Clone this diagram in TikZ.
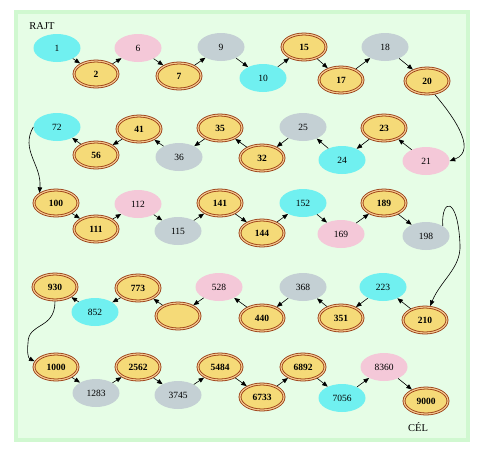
\documentclass[tikz,border=0pt]{standalone}
\usepackage{fontspec}
\setmainfont{Liberation Serif}
\usetikzlibrary{shapes.geometric,arrows.meta}
\definecolor{cyanN}{HTML}{70F0F0}
\definecolor{pinkN}{HTML}{F4C8D8}
\definecolor{grayN}{HTML}{C4D0D4}
\definecolor{goldN}{HTML}{F5DA78}
\definecolor{brownN}{HTML}{98380F}
\definecolor{gapN}{HTML}{F2C890}
\definecolor{frameN}{HTML}{D0F8D0}
\definecolor{bgN}{HTML}{E6FDE6}
\begin{document}
\begin{tikzpicture}[x=1pt,y=-1pt,
 base/.style={ellipse, inner sep=0pt, minimum width=47pt, minimum height=28pt, font=\fontsize{9.5}{10}\selectfont},
 cy/.style={base, fill=cyanN},
 pk/.style={base, fill=pinkN},
 gr/.style={base, fill=grayN},
 gd/.style={base, minimum width=44pt, minimum height=26pt, fill=goldN, draw=brownN, line width=0.8pt, double=gapN, double distance=1.2pt, outer sep=1.4pt, font=\fontsize{9.5}{10}\selectfont\bfseries},
 lbl/.style={inner sep=0pt, font=\fontsize{10.5}{12}\selectfont},
 arr/.style={-{Triangle[length=5.5pt,width=4.5pt]}, line width=0.6pt}
]
\useasboundingbox (0,0) rectangle (477,448);
\fill[white] (0,0) rectangle (477,448);
\fill[frameN] (14,10) rectangle (470,442);
\fill[bgN] (18,14) rectangle (466,438);

\node[lbl] (rajt) at (42,26) {RAJT};
\node[lbl] (cel) at (418,427) {CÉL};

% Row 1
\node[cy] (n1) at (57,48) {1};
\node[gd] (n2) at (96,74) {2};
\node[pk] (n6) at (138,48) {6};
\node[gd] (n7) at (179,76) {7};
\node[gr] (n9) at (221,47) {9};
\node[cy] (n10) at (263,78) {10};
\node[gd] (n15) at (304,47) {15};
\node[gd] (n17) at (341,80) {17};
\node[gr] (n18) at (385,47) {18};
\node[gd] (n20) at (427,81) {20};
% Row 2
\node[cy] (n72) at (57,127) {72};
\node[gd] (n56) at (96,155) {56};
\node[gd] (n41) at (139,129) {41};
\node[gr] (n36) at (179,157) {36};
\node[gd] (n35) at (220,128) {35};
\node[gd] (n32) at (262,158) {32};
\node[gr] (n25) at (303,127) {25};
\node[cy] (n24) at (342,160) {24};
\node[gd] (n23) at (384,128) {23};
\node[pk] (n21) at (426,161) {21};
% Row 3
\node[gd] (n100) at (56,203) {100};
\node[gd] (n111) at (96,229) {111};
\node[pk] (n112) at (138,204) {112};
\node[gr] (n115) at (178,231) {115};
\node[gd] (n141) at (220,203) {141};
\node[gd] (n144) at (262,233) {144};
\node[cy] (n152) at (303,203) {152};
\node[pk] (n169) at (341,234) {169};
\node[gd] (n189) at (384,203) {189};
\node[gr] (n198) at (426,236) {198};
% Row 4
\node[gd] (n930) at (55,287) {930};
\node[cy] (n852) at (95,312) {852};
\node[gd] (n773) at (138,288) {773};
\node[gd] (ne) at (178,316) {};
\node[pk] (n528) at (219,287) {528};
\node[gd] (n440) at (262,318) {440};
\node[gr] (n368) at (303,287) {368};
\node[gd] (n351) at (341,318) {351};
\node[cy] (n223) at (383,287) {223};
\node[gd] (n210) at (425,320) {210};
% Row 5
\node[gd] (n1000) at (56,367) {1000};
\node[gr] (n1283) at (96,393) {1283};
\node[gd] (n2562) at (138,367) {2562};
\node[gr] (n3745) at (178,395) {3745};
\node[gd] (n5484) at (220,367) {5484};
\node[gd] (n6733) at (262,397) {6733};
\node[gd] (n6892) at (303,367) {6892};
\node[cy] (n7056) at (342,398) {7056};
\node[pk] (n8360) at (384,367) {8360};
\node[gd] (n9000) at (426,401) {9000};

% Row 1 edges
\draw[arr] (n1) -- (n2);
\draw[arr] (n2) -- (n6);
\draw[arr] (n6) -- (n7);
\draw[arr] (n7) -- (n9);
\draw[arr] (n9) -- (n10);
\draw[arr] (n10) -- (n15);
\draw[arr] (n15) -- (n17);
\draw[arr] (n17) -- (n18);
\draw[arr] (n18) -- (n20);
\draw[arr] (n20.-60) .. controls (448,110) and (480,150) .. (n21.east);
% Row 2 edges
\draw[arr] (n21) -- (n23);
\draw[arr] (n23) -- (n24);
\draw[arr] (n24) -- (n25);
\draw[arr] (n25) -- (n32);
\draw[arr] (n32) -- (n35);
\draw[arr] (n35) -- (n36);
\draw[arr] (n36) -- (n41);
\draw[arr] (n41) -- (n56);
\draw[arr] (n56) -- (n72);
\draw[arr] (n72.west) .. controls (20,150) and (42,165) .. (n100.north west);
% Row 3 edges
\draw[arr] (n100) -- (n111);
\draw[arr] (n111) -- (n112);
\draw[arr] (n112) -- (n115);
\draw[arr] (n115) -- (n141);
\draw[arr] (n141) -- (n144);
\draw[arr] (n144) -- (n152);
\draw[arr] (n152) -- (n169);
\draw[arr] (n169) -- (n189);
\draw[arr] (n189) -- (n198);
\draw[arr] (n198.north east) .. controls (441,198) and (458,195) .. (460,245) .. controls (461,268) and (441,280) .. (n210.70);
% Row 4 edges
\draw[arr] (n210) -- (n223);
\draw[arr] (n223) -- (n351);
\draw[arr] (n351) -- (n368);
\draw[arr] (n368) -- (n440);
\draw[arr] (n440) -- (n528);
\draw[arr] (n528) -- (ne);
\draw[arr] (ne) -- (n773);
\draw[arr] (n773) -- (n852);
\draw[arr] (n852) -- (n930);
\draw[arr] (n930.south) .. controls (55,330) and (28,322) .. (28,343) .. controls (27,352) and (28,358) .. (n1000.165);
% Row 5 edges
\draw[arr] (n1000) -- (n1283);
\draw[arr] (n1283) -- (n2562);
\draw[arr] (n2562) -- (n3745);
\draw[arr] (n3745) -- (n5484);
\draw[arr] (n5484) -- (n6733);
\draw[arr] (n6733) -- (n6892);
\draw[arr] (n6892) -- (n7056);
\draw[arr] (n7056) -- (n8360);
\draw[arr] (n8360) -- (n9000);
\end{tikzpicture}
\end{document}
